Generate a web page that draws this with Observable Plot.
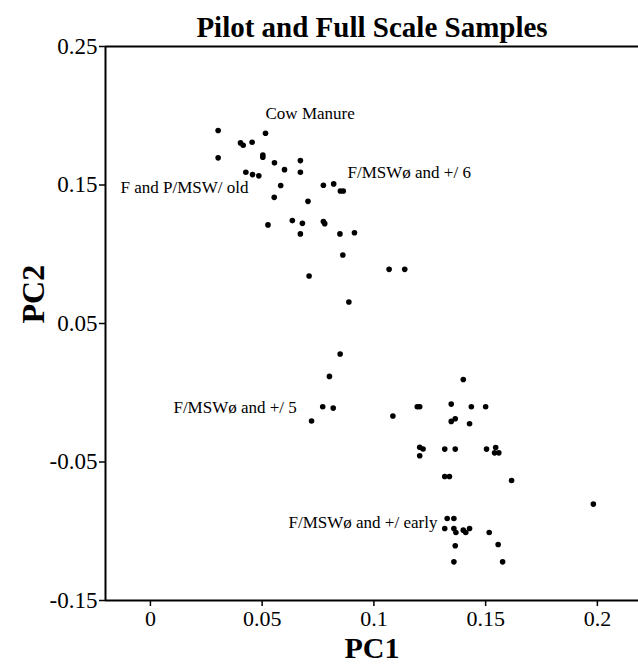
<!DOCTYPE html>
<html>
<head>
<meta charset="utf-8">
<script src="https://cdn.jsdelivr.net/npm/d3@7"></script>
<script src="https://cdn.jsdelivr.net/npm/@observablehq/plot@0.6"></script>
<style>
  html, body { margin: 0; padding: 0; background: #fff; }
</style>
</head>
<body>
<div id="chart"></div>
<script>
const pc1 = [
  0.0303, 0.0515, 0.0403, 0.0415, 0.0455, 0.0303, 0.0503, 0.0503, 0.0555, 0.0671,
  0.0600, 0.0671, 0.0427, 0.0457, 0.0485, 0.0583, 0.0554, 0.0705, 0.0774, 0.0820,
  0.0850, 0.0863, 0.0526, 0.0635, 0.0680, 0.0774, 0.0780, 0.0671, 0.0848, 0.0913,
  0.0861, 0.1068, 0.1138, 0.0710, 0.0888, 0.0849, 0.0801, 0.0771, 0.0818, 0.0721,
  0.1085, 0.1194, 0.1205, 0.1400, 0.1346, 0.1436, 0.1500, 0.1346, 0.1364, 0.1428,
  0.1205, 0.1220, 0.1205, 0.1317, 0.1364, 0.1504, 0.1545, 0.1540, 0.1559, 0.1317,
  0.1338, 0.1616, 0.1982, 0.1328, 0.1358, 0.1317, 0.1358, 0.1367, 0.1400, 0.1411,
  0.1428, 0.1516, 0.1364, 0.1556, 0.1358, 0.1576
];
const pc2 = [
  0.1893, 0.1874, 0.1804, 0.1787, 0.1809, 0.1696, 0.1717, 0.1700, 0.1660, 0.1676,
  0.1611, 0.1592, 0.1592, 0.1575, 0.1566, 0.1496, 0.1411, 0.1382, 0.1498, 0.1508,
  0.1457, 0.1457, 0.1212, 0.1243, 0.1223, 0.1236, 0.1221, 0.1147, 0.1147, 0.1155,
  0.0995, 0.0891, 0.0891, 0.0843, 0.0655, 0.0280, 0.0118, -0.0101, -0.0111, -0.0204,
  -0.0168, -0.0101, -0.0101, 0.0096, -0.0082, -0.0101, -0.0101, -0.0207, -0.0188, -0.0224,
  -0.0394, -0.0406, -0.0455, -0.0407, -0.0407, -0.0407, -0.0395, -0.0434, -0.0434, -0.0605,
  -0.0605, -0.0634, -0.0804, -0.0908, -0.0908, -0.0980, -0.0980, -0.1009, -0.0992, -0.1009,
  -0.0980, -0.1009, -0.1105, -0.1096, -0.1221, -0.1221
];

const labelText = ["Cow Manure", "F and P/MSW/ old", "F/MSWø and +/ 6", "F/MSWø and +/ 5", "F/MSWø and +/ early"];
const labelX = [0.0515, -0.0134, 0.0882, 0.0103, 0.0618];
const labelY = [0.2016, 0.1480, 0.1590, -0.0108, -0.0940];

const xTicks = [0, 0.05, 0.1, 0.15, 0.2];
const xTickLabels = ["0", "0.05", "0.1", "0.15", "0.2"];
const yTicks = [0.25, 0.15, 0.05, -0.05, -0.15];
const yTickLabels = ["0.25", "0.15", "0.05", "-0.05", "-0.15"];

const xDomain = [-0.0201, 0.2184];
const yDomain = [-0.15, 0.25];

const title = "Pilot and Full Scale Samples";
const xLabel = "PC1";
const yLabel = "PC2";

const points = pc1.map((x, i) => ({x, y: pc2[i]}));
const labels = labelText.map((t, i) => ({t, x: labelX[i], y: labelY[i]}));

const serif = "'Liberation Serif', 'DejaVu Serif', serif";

const chart = Plot.plot({
  width: 638,
  height: 664,
  marginLeft: 105,
  marginRight: 0,
  marginTop: 46,
  marginBottom: 64,
  style: {fontFamily: serif, background: "#fff", color: "#000"},
  x: {domain: xDomain, label: null},
  y: {domain: yDomain, label: null},
  marks: [
    Plot.axisX({ticks: xTicks, tickFormat: (d) => xTickLabels[xTicks.indexOf(d)], tickSize: 6, tickPadding: 4, fontSize: 22, stroke: "#000", strokeWidth: 1.5, strokeOpacity: 1, label: null}),
    Plot.axisY({ticks: yTicks, tickFormat: (d) => yTickLabels[yTicks.indexOf(d)], tickSize: 6, tickPadding: 2, fontSize: 23, stroke: "#000", strokeWidth: 1.5, strokeOpacity: 1, label: null}),
    Plot.ruleY([yDomain[0]], {stroke: "#000", strokeWidth: 2}),
    Plot.ruleY([yDomain[1]], {stroke: "#000", strokeWidth: 2}),
    Plot.ruleX([xDomain[0]], {stroke: "#000", strokeWidth: 2}),
    Plot.dot(points, {x: "x", y: "y", r: 2.8, fill: "#000", stroke: "none"}),
    Plot.text(labels, {x: "x", y: "y", text: "t", textAnchor: "start", fontSize: 17, fill: "#000"}),
    Plot.text([title], {frameAnchor: "top", lineAnchor: "middle", dy: -19, text: d => d, fontSize: 29, fontWeight: "bold", fill: "#000"}),
    Plot.text([xLabel], {frameAnchor: "bottom", lineAnchor: "middle", dy: 48, text: d => d, fontSize: 30, fontWeight: "bold", fill: "#000"}),
    Plot.text([yLabel], {frameAnchor: "left", dx: -72, rotate: -90, text: d => d, fontSize: 32, fontWeight: "bold", fill: "#000"})
  ]
});
document.getElementById("chart").appendChild(chart);
</script>
</body>
</html>
